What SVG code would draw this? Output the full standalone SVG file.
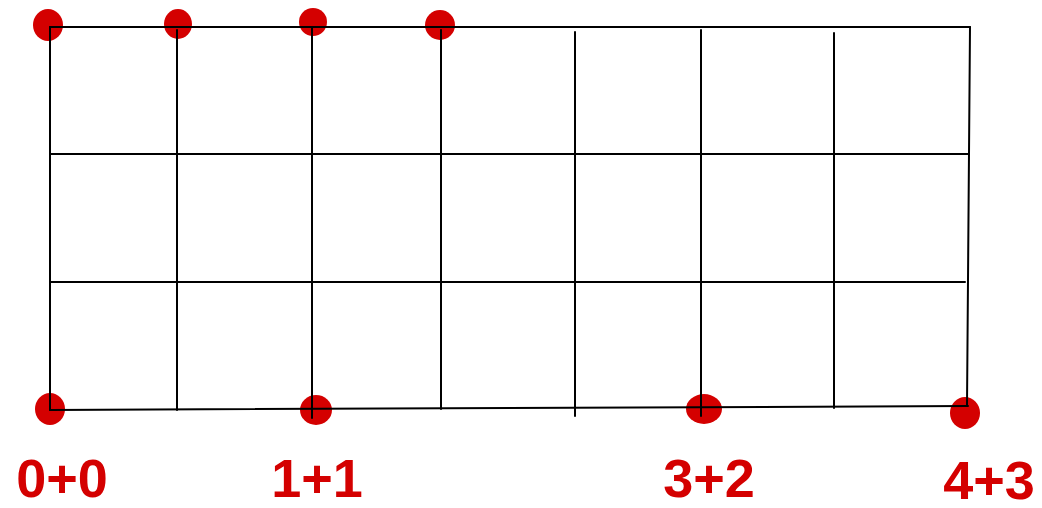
<svg xmlns="http://www.w3.org/2000/svg" width="1042" height="508" viewBox="0 0 1042 508">
<style>
.g{stroke:#000;stroke-width:2;fill:none;stroke-linecap:round}
.d{fill:#d40000}
.t{fill:#d40000;font-family:"Liberation Sans",Arial,sans-serif;font-weight:bold;font-size:54px;text-anchor:middle}
</style>
<rect width="1042" height="508" fill="#fff"/>
<g id="dots">
<ellipse class="d" cx="48" cy="25" rx="15" ry="16"/>
<ellipse class="d" cx="178" cy="24" rx="14" ry="15"/>
<ellipse class="d" cx="313" cy="22" rx="14" ry="14"/>
<ellipse class="d" cx="440" cy="25" rx="15" ry="15"/>
<ellipse class="d" cx="50" cy="409" rx="15" ry="16"/>
<ellipse class="d" cx="316" cy="410" rx="16" ry="15"/>
<ellipse class="d" cx="704" cy="409" rx="18" ry="15"/>
<ellipse class="d" cx="965" cy="413" rx="15" ry="16"/>
</g>
<g id="grid" class="g">
<line x1="50" y1="27" x2="970" y2="27"/>
<line x1="50" y1="154" x2="968" y2="154"/>
<line x1="50" y1="282" x2="965" y2="282"/>
<line x1="50" y1="410" x2="968" y2="406"/>
<line x1="50" y1="27" x2="50" y2="410"/>
<line x1="177" y1="30" x2="177" y2="410"/>
<line x1="312" y1="27" x2="312" y2="418"/>
<line x1="441" y1="30" x2="441" y2="409"/>
<line x1="575" y1="32" x2="575" y2="416"/>
<line x1="701" y1="30" x2="701" y2="416"/>
<line x1="834" y1="33" x2="834" y2="408"/>
<line x1="970" y1="27" x2="967" y2="406"/>
</g>
<g id="labels">
<text class="t" x="62" y="497">0+0</text>
<text class="t" x="317" y="497">1+1</text>
<text class="t" x="709" y="497">3+2</text>
<text class="t" x="989" y="499">4+3</text>
</g>
</svg>
